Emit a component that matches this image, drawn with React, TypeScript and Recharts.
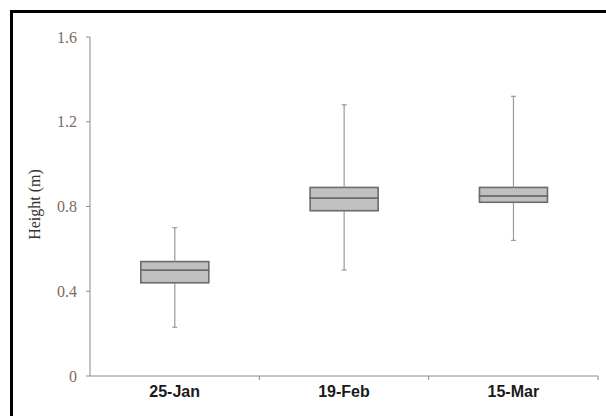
import { Bar, ComposedChart, XAxis, YAxis, Label } from 'recharts';

const dates = ['25-Jan', '19-Feb', '15-Mar'];
const mins = [0.23, 0.5, 0.64];
const q1s = [0.44, 0.78, 0.82];
const medians = [0.5, 0.84, 0.85];
const q3s = [0.54, 0.89, 0.89];
const maxs = [0.7, 1.28, 1.32];
const yTicks = [0, 0.4, 0.8, 1.2, 1.6];

type Row = {
  date: string;
  base: number;
  lowWhisker: number;
  lowBox: number;
  highBox: number;
  highWhisker: number;
};

const rows: Row[] = dates.map((date, i) => ({
  date,
  base: mins[i],
  lowWhisker: q1s[i] - mins[i],
  lowBox: medians[i] - q1s[i],
  highBox: q3s[i] - medians[i],
  highWhisker: maxs[i] - q3s[i],
}));

const WHISKER = '#9a9a9a';
const BOX_STROKE = '#6b6b6b';
const BOX_FILL = '#c0c0c0';
const AXIS = '#8a8a8a';

function LowWhisker(props: any) {
  const { x, y, width, height } = props;
  const cx = x + width / 2;
  return (
    <g>
      <line x1={cx} x2={cx} y1={y} y2={y + height} stroke={WHISKER} strokeWidth={1.2} />
      <line x1={cx - 2.5} x2={cx + 2.5} y1={y + height} y2={y + height} stroke={WHISKER} strokeWidth={1.2} />
    </g>
  );
}

function HighWhisker(props: any) {
  const { x, y, width, height } = props;
  const cx = x + width / 2;
  return (
    <g>
      <line x1={cx} x2={cx} y1={y} y2={y + height} stroke={WHISKER} strokeWidth={1.2} />
      <line x1={cx - 2.5} x2={cx + 2.5} y1={y} y2={y} stroke={WHISKER} strokeWidth={1.2} />
    </g>
  );
}

function BoxHalf(props: any) {
  const { x, y, width, height } = props;
  return <rect x={x} y={y} width={width} height={height} fill={BOX_FILL} stroke={BOX_STROKE} strokeWidth={1.6} />;
}

function DateTick(props: any) {
  const { x, y, payload } = props;
  const off = payload && payload.offset ? payload.offset : 84.7;
  return (
    <g>
      <text
        x={x}
        y={y + 21}
        textAnchor="middle"
        fontFamily="'Liberation Sans', Arial, sans-serif"
        fontWeight="bold"
        fontSize={16}
        fill="#1a1a1a"
      >
        {payload.value}
      </text>
      <line x1={x + off} x2={x + off} y1={y} y2={y + 4} stroke={AXIS} strokeWidth={1} />
    </g>
  );
}

export default function App() {
  return (
    <div style={{ position: 'absolute', left: 0, top: 0, width: 606, height: 416, overflow: 'hidden', background: '#fff' }}>
      <div
        style={{
          position: 'absolute',
          left: 10,
          top: 10,
          width: 640,
          height: 440,
          border: '3px solid #000',
        }}
      />
      <div style={{ position: 'absolute', left: 0, top: 0 }}>
        <ComposedChart
          width={606}
          height={416}
          data={rows}
          margin={{ top: 37, right: 8, bottom: 10, left: 0 }}
          barCategoryGap="30%"
        >
          <XAxis
            dataKey="date"
            height={30}
            tickLine={false}
            tickSize={0}
            tickMargin={0}
            axisLine={{ stroke: AXIS, strokeWidth: 1 }}
            tick={<DateTick />}
            interval={0}
          />
          <YAxis
            width={90}
            domain={[0, 1.6]}
            ticks={yTicks}
            tickFormatter={(v: number) => (v === 0 ? '0' : v.toFixed(1))}
            tickSize={4}
            tickMargin={9}
            axisLine={{ stroke: AXIS, strokeWidth: 1 }}
            tickLine={{ stroke: AXIS, strokeWidth: 1 }}
            tick={{ fill: '#7b6b60', fontSize: 16, fontFamily: "'Liberation Serif', 'Times New Roman', serif" }}
          >
            <Label
              content={(p: any) => {
                const vb = p.viewBox || { y: 37, height: 339 };
                const cy = vb.y + vb.height / 2 - 2;
                return (
                  <text
                    x={34}
                    y={cy}
                    transform={`rotate(-90, 34, ${cy})`}
                    textAnchor="middle"
                    dominantBaseline="central"
                    fontFamily="'Liberation Serif', 'Times New Roman', serif"
                    fontSize={16}
                    fill="#333"
                  >
                    Height (m)
                  </text>
                );
              }}
            />
          </YAxis>
          <Bar dataKey="base" stackId="box" fill="transparent" isAnimationActive={false} />
          <Bar dataKey="lowWhisker" stackId="box" shape={<LowWhisker />} isAnimationActive={false} />
          <Bar dataKey="lowBox" stackId="box" shape={<BoxHalf />} isAnimationActive={false} />
          <Bar dataKey="highBox" stackId="box" shape={<BoxHalf />} isAnimationActive={false} />
          <Bar dataKey="highWhisker" stackId="box" shape={<HighWhisker />} isAnimationActive={false} />
        </ComposedChart>
      </div>
    </div>
  );
}
